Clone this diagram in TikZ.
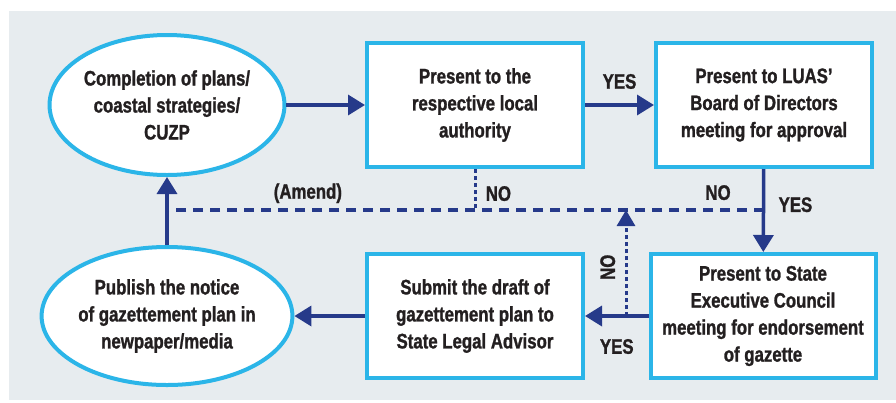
\documentclass[tikz,border=0pt]{standalone}
\usepackage{fontspec}
\setmainfont{Liberation Sans}[FakeStretch=0.8, BoldFeatures={FakeBold=1.2}]
\usepackage{tikz}
\usetikzlibrary{shapes.geometric, arrows.meta, positioning}
\definecolor{panel}{HTML}{E7ECEF}
\definecolor{skyline}{HTML}{2BB5E8}
\definecolor{navy}{HTML}{263A8A}
\definecolor{ink}{HTML}{231F20}

\begin{document}
\begin{tikzpicture}[
        x=1pt, y=-1pt,
        every node/.style={font=\fontsize{21}{27}\selectfont\bfseries, text=ink},
        stepbox/.style={rectangle, draw=skyline, line width=4pt, fill=white, align=center, minimum width=216pt, minimum height=124pt, inner sep=0pt},
        endcap/.style={ellipse, draw=skyline, line width=4pt, fill=white, align=center, minimum width=233pt, minimum height=140pt, inner sep=0pt},
        flow/.style={navy, line width=3.5pt, -{Triangle[length=17pt, width=20pt]}},
        amend/.style={navy, line width=3.2pt, dash pattern=on 10pt off 7pt},
        query/.style={navy, line width=3pt, dash pattern=on 4pt off 3pt}
    ]

    % Panel
    \useasboundingbox (0,0) rectangle (896,402);
    \fill[panel] (9,11) rectangle (896,400);

    % Top row
    \node[endcap] (plans) at (167,105) {Completion of plans/\\coastal strategies/\\CUZP};
    \node[stepbox] (local) at (475,105) {Present to the\\respective local\\authority};
    \node[stepbox] (board) at (764,105) {Present to LUAS'\\Board of Directors\\meeting for approval};

    % Bottom row
    \node[stepbox, minimum width=225pt] (council) at (763,316) {Present to State\\Executive Council\\meeting for endorsement\\of gazette};
    \node[stepbox] (legal) at (475,316) {Submit the draft of\\gazettement plan to\\State Legal Advisor};
    \node[endcap, minimum height=138pt] (notice) at (167,316) {Publish the notice\\of gazettement plan in\\newpaper/media};

    % Amendment loop
    \coordinate (amendR) at (board.south |- 0,210);
    \coordinate (amendL) at (plans.south |- 0,210);
    \coordinate (branch) at (626,0);

    % Main flow
    \draw[flow] (plans) -- (local);
    \draw[flow] (local) -- node[above=11pt] {YES} (board);
    \draw[flow] (board) -- node[pos=0.43, right=10pt] {YES} (council);
    \draw[flow] (council) -- node[below=18pt] {YES} (legal);
    \draw[flow] (legal) -- (notice);
    \draw[flow] (notice) -- (plans);

    % Rejections
    \draw[amend] (amendR) -- node[pos=0.077, above=5pt] {NO} node[pos=0.764, above=2pt] {(Amend)} (amendL);
    \draw[query] (local) -- node[pos=0.6, right=6pt] {NO} (local.south |- amendR);
    \draw[query, -{Triangle[length=16pt, width=18pt]}] (branch |- council.west) -- node[pos=0.46, above=6pt, sloped] {NO} (branch |- amendR);

\end{tikzpicture}
\end{document}
